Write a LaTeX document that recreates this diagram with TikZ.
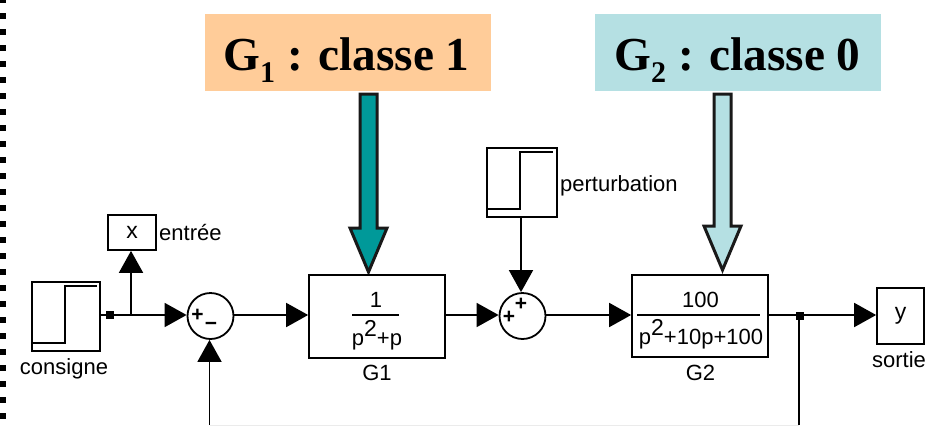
\documentclass[tikz,border=0pt]{standalone}
\usepackage{fontspec}
\setmainfont{Liberation Sans}
\newfontfamily\titlefont{Liberation Serif}[Scale=1.0]
\usetikzlibrary{arrows.meta}
\tikzset{
  x=1pt,y=-1pt,
  block/.style={draw=black,line width=1.7pt,rectangle,inner sep=0pt,fill=white},
  sumc/.style={draw=black,line width=1.8pt,circle,inner sep=0pt,minimum size=46pt,fill=white},
  sig/.style={line width=1.8pt,-{Triangle[length=22pt,width=24pt]}},
  wire/.style={line width=1.8pt},
  dot/.style={fill=black,rectangle,inner sep=0pt,minimum size=8.5pt},
  lbl/.style={font=\fontsize{22}{22}\selectfont,inner sep=0pt,anchor=base},
  lbs/.style={font=\bfseries\fontsize{21}{21}\selectfont,inner sep=0pt,anchor=center},
  ttl/.style={font=\titlefont\bfseries\fontsize{47.3}{47.3}\selectfont,inner sep=0pt,anchor=base},
  fat/.style={line width=3pt,draw=black!90,line join=miter,miter limit=10},
  edgebit/.style={fill=black,rectangle,inner sep=0pt,minimum width=6.5pt,minimum height=6.5pt}
}
\definecolor{peach}{HTML}{FFCC99}
\definecolor{paleblue}{HTML}{B5E0E3}
\definecolor{tealfill}{HTML}{009999}
\newcommand{\bigpow}{\raisebox{9pt}{\fontsize{23}{23}\selectfont 2}}
\begin{document}
\begin{tikzpicture}
\useasboundingbox (0,0) rectangle (939,426);
\clip (0,0) rectangle (939,426);
% left page edge
\foreach \yy in {0,16,...,416}{\node[edgebit] at (3,\yy) {};}
% titles
\fill[peach] (205,14) rectangle (491,91);
\fill[paleblue] (595,14) rectangle (881,91);
\node[ttl] (t1) at (346.5,70) {G\raisebox{-12pt}{\fontsize{30}{30}\selectfont 1} : classe 1};
\node[ttl] (t2) at (737.5,70) {G\raisebox{-12pt}{\fontsize{30}{30}\selectfont 2} : classe 0};
% big arrows
\draw[fat,fill=tealfill] (360,94) -- (377,94) -- (377,228) -- (387,228) -- (368.5,272) -- (350,228) -- (360,228) -- cycle;
\draw[fat,fill=paleblue] (714,94) -- (731,94) -- (731,226) -- (741,226) -- (722.5,270) -- (704,226) -- (714,226) -- cycle;
% blocks
\node[block,minimum width=68pt,minimum height=69pt] (cons) at (66,316.5) {};
\node[block,minimum width=48pt,minimum height=35pt] (xb) at (132,232.5) {\fontsize{23}{23}\selectfont x};
\node[block,minimum width=136pt,minimum height=83pt] (g1) at (377,316.5) {};
\node[block,minimum width=136pt,minimum height=82pt] (g2) at (700,316) {};
\node[block,minimum width=70pt,minimum height=69pt] (pert) at (522,182.5) {};
\node[block,minimum width=47pt,minimum height=56pt] (yb) at (900.5,316) {\fontsize{23}{23}\selectfont\raisebox{-2pt}{y}};
\node[sumc] (s1) at (210.5,316) {};
\node[sumc] (s2) at (522.5,316) {};
\node[dot] (j1) at (110,315) {};
\node[dot] (j2) at (800,316) {};
\coordinate (br) at (131,315);
\coordinate (pin) at (521,216);
\coordinate (fb1) at (799,425);
\coordinate (fb2) at (209.5,425);
% steps
\draw[wire] (33,343) -- (65,343) -- (65,286) -- (97,286);
\draw[wire] (488,209) -- (520,209) -- (520,152) -- (553,152);
% connectors
\draw[wire] (cons.east |- j1) -- (j1);
\draw[sig] (j1) -- (s1.west |- j1);
\draw[sig] (br) -- (xb.south -| br);
\draw[sig] (s1.east |- j1) -- (g1.west |- j1);
\draw[sig] (g1.east |- j1) -- (s2.west |- j1);
\draw[sig] (pin) -- (pin |- s2.north);
\draw[sig] (s2.east |- j1) -- (g2.west |- j1);
\draw[sig] (g2.east |- j1) -- (yb.west |- j1);
\draw[wire] (799,316) -- (fb1);
\draw[line width=1pt,black!8] (fb1) -- (fb2);
\draw[sig] (fb2) -- (fb2 |- s1.south);
% signs
\node[lbs] (p1) at (197.5,315) {+};
\node[lbs] (m1) at (211,326) {\textminus};
\node[lbs] (p2) at (509,317) {+};
\node[lbs] (p3) at (521,304) {+};
% fractions
\node[lbl] (n1) at (376,307) {1};
\draw[wire] (352,315) -- (399,315);
\node[lbl] (d1) at (377,345) {p\bigpow{}+p};
\node[lbl] (n2) at (700.5,307) {100};
\draw[wire] (637,315) -- (760,315);
\node[lbl] (d2) at (701,344) {p\bigpow{}+10p+100};
% labels
\node[lbl] (lc) at (64,374) {consigne};
\node[lbl,anchor=base west] (le) at (159,240) {entrée};
\node[lbl,anchor=base west] (lp) at (560,191) {perturbation};
\node[lbl] (lg1) at (377,380) {G1};
\node[lbl] (lg2) at (700.5,380) {G2};
\node[lbl] (ls) at (899,367) {sortie};
\end{tikzpicture}
\end{document}
